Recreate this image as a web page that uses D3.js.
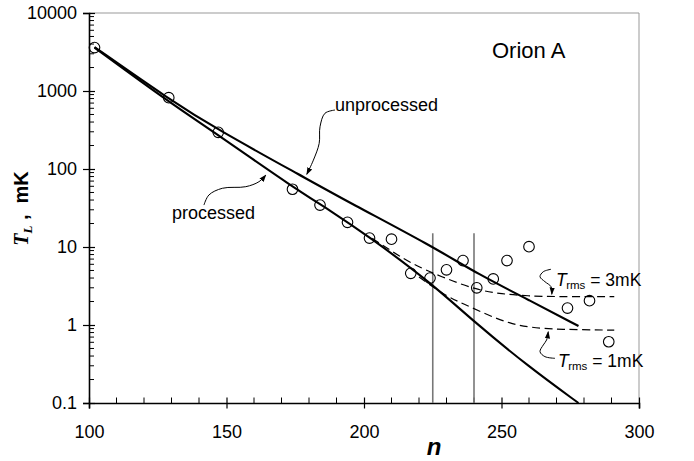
<!DOCTYPE html>
<html>
<head>
<meta charset="utf-8">
<script src="https://cdn.jsdelivr.net/npm/d3@7"></script>
<style>
body{margin:0;background:#fff;}
text{font-family:"Liberation Sans",Arial,sans-serif;}
</style>
</head>
<body>
<script>
// observed line temperatures
const obsN=[102,129,147,174,184,194,202,210,217,224,230,236,241,247,252,260,274,282,289];
const obsT=[3600,820,295,55,34.5,20.7,13,12.6,4.6,4.0,5.1,6.7,3.0,3.9,6.7,10.1,1.65,2.05,0.61];

// model curves
const unprocN=[102,129,147,178,195,224,242,260,278];
const unprocT=[3660,789,316,78.9,36.6,10.6,4.37,2.09,0.97];
const procN=[102,129,147,174,188,202,224,240,260,278];
const procT=[3600,723,273,58.8,29,13.4,3.56,1.1,0.29,0.1];

// noise-limited curves
const rms3N=[203,210,217,228,241,250,260,270,291];
const rms3T=[12.9,8.9,6.18,4.16,2.81,2.5,2.35,2.31,2.31];
const rms1N=[220,230,236,245,253,260,271,291];
const rms1T=[4.12,2.32,1.89,1.34,1.05,0.93,0.875,0.86];

// vertical markers
const vlineN=[225,240];
const vlineTop=15;

// ticks
const xTicks=[100,150,200,250,300];
const yTicks=[0.1,1,10,100,1000,10000];
const yTickLabels=["0.1","1","10","100","1000","10000"];

// annotation arrows (data coords)
const arrUnproc=[[189.45,570],[185.8,518],[184,348],[183.7,213],[181.6,130],[179.2,85.5]];
const arrProc=[[141.8,34.5],[143.6,46.4],[148.5,56.6],[157,59.3],[161.8,68.7],[164.3,83.7]];
const arr3=[[268,5.18],[265.2,4.82],[264,4.16],[265.8,3.59],[268,3.1],[268.3,2.48]];
const arr1=[[269.45,0.374],[265.8,0.393],[264,0.455],[265.2,0.555],[266.4,0.643],[267,0.82]];

const W=694,H=461;
const L=89,R=639,T=13,B=403;

const x=d3.scaleLinear().domain([100,300]).range([L,R]);
const y=d3.scaleLog().domain([0.1,10000]).range([B,T]);

const svg=d3.select("body").append("svg").attr("width",W).attr("height",H);

svg.append("defs").append("marker")
  .attr("id","ah").attr("viewBox","0 0 10 10")
  .attr("refX",9).attr("refY",5)
  .attr("markerWidth",7.5).attr("markerHeight",7.5)
  .attr("markerUnits","userSpaceOnUse")
  .attr("orient","auto")
  .append("path").attr("d","M0,1.5L10,5L0,8.5Z").attr("fill","#000");

// frame top/right
svg.append("line").attr("x1",L).attr("x2",R).attr("y1",T).attr("y2",T).attr("stroke","#999").attr("stroke-width",1);
svg.append("line").attr("x1",R).attr("x2",R).attr("y1",T).attr("y2",B).attr("stroke","#999").attr("stroke-width",1);

// minor ticks
const xMinor=d3.range(110,300,10).filter(d=>d%50!==0);
svg.append("g").selectAll("line").data(xMinor).enter().append("line")
  .attr("x1",d=>x(d)).attr("x2",d=>x(d)).attr("y1",B).attr("y2",B-5.5)
  .attr("stroke","#000").attr("stroke-width",1);
const yMinor=[];
[0.1,1,10,100,1000].forEach(d=>{for(let m=2;m<=9;m++)yMinor.push(d*m);});
svg.append("g").selectAll("line").data(yMinor).enter().append("line")
  .attr("x1",L).attr("x2",L+5).attr("y1",d=>y(d)).attr("y2",d=>y(d))
  .attr("stroke","#000").attr("stroke-width",1);

// axes
const gx=svg.append("g").attr("transform","translate(0,"+B+")")
  .call(d3.axisBottom(x).tickValues(xTicks).tickSizeOuter(0).tickSize(5.5).tickPadding(17).tickFormat(d3.format("d")));
gx.selectAll(".tick line").attr("y1",-5.5).attr("stroke-width",1.2);
gx.select(".domain").attr("stroke-width",1.6);
gx.selectAll("text").attr("font-size",18).attr("fill","#000").attr("font-family","Liberation Sans, Arial, sans-serif");

const gy=svg.append("g").attr("transform","translate("+L+",0)")
  .call(d3.axisLeft(y).tickValues(yTicks).tickSizeOuter(0).tickSize(6).tickPadding(6)
    .tickFormat((d,i)=>yTickLabels[i]));
gy.selectAll(".tick line").attr("x1",6).attr("stroke-width",1.2);
gy.select(".domain").attr("stroke-width",1.6);
gy.selectAll("text").attr("font-size",18).attr("fill","#000").attr("font-family","Liberation Sans, Arial, sans-serif");

// vertical markers
svg.append("g").selectAll("line").data(vlineN).enter().append("line")
  .attr("x1",d=>x(d)).attr("x2",d=>x(d)).attr("y1",y(vlineTop)).attr("y2",B)
  .attr("stroke","#777").attr("stroke-width",1.6);

const line=d3.line().x(d=>x(d[0])).y(d=>y(d[1])).curve(d3.curveBasis);
const zip=(a,b)=>a.map((v,i)=>[v,b[i]]);

svg.append("path").attr("d",line(zip(unprocN,unprocT))).attr("fill","none").attr("stroke","#000").attr("stroke-width",2.1);
svg.append("path").attr("d",line(zip(procN,procT))).attr("fill","none").attr("stroke","#000").attr("stroke-width",2.1);
svg.append("path").attr("d",line(zip(rms3N,rms3T))).attr("fill","none").attr("stroke","#000").attr("stroke-width",1.2).attr("stroke-dasharray","8,4.5");
svg.append("path").attr("d",line(zip(rms1N,rms1T))).attr("fill","none").attr("stroke","#000").attr("stroke-width",1.2).attr("stroke-dasharray","8,4.5");

// data points
svg.append("g").selectAll("circle").data(zip(obsN,obsT)).enter().append("circle")
  .attr("cx",d=>x(d[0])).attr("cy",d=>y(d[1])).attr("r",5.3)
  .attr("fill","none").attr("stroke","#000").attr("stroke-width",1.1);

// arrows
const aline=d3.line().x(d=>x(d[0])).y(d=>y(d[1])).curve(d3.curveCatmullRom);
[arrUnproc,arrProc,arr3,arr1].forEach(a=>{
  svg.append("path").attr("d",aline(a)).attr("fill","none").attr("stroke","#000")
    .attr("stroke-width",1).attr("marker-end","url(#ah)");
});

// labels
svg.append("text").attr("x",492).attr("y",58).attr("font-size",22).text("Orion A");
svg.append("text").attr("x",335).attr("y",111).attr("font-size",18).text("unprocessed");
svg.append("text").attr("x",172).attr("y",219).attr("font-size",18).text("processed");

function rmsLabel(px,py,val){
  const t=svg.append("text").attr("x",px).attr("y",py).attr("font-size",17.5);
  t.append("tspan").attr("font-style","italic").text("T");
  t.append("tspan").attr("font-size",11.5).attr("dy",3).attr("dx",-0.5).text("rms");
  t.append("tspan").attr("dy",-3).text("\u00a0=\u00a0"+val);
}
rmsLabel(556,286,"3mK");
rmsLabel(558,367,"1mK");

// axis titles
const yl=svg.append("text").attr("transform","translate(28,208.5) rotate(-90)")
  .attr("text-anchor","middle").attr("font-weight","bold");
yl.append("tspan").attr("font-family","Liberation Serif, Times New Roman, serif").attr("font-style","italic").attr("font-size",20).text("T");
yl.append("tspan").attr("font-family","Liberation Serif, Times New Roman, serif").attr("font-style","italic").attr("font-size",13).attr("dy",4).text("L");
yl.append("tspan").attr("font-size",20).attr("dy",-4).text("\u00a0,\u00a0 mK");

svg.append("text").attr("x",434).attr("y",455).attr("text-anchor","middle")
  .attr("font-family","Liberation Serif, Times New Roman, serif").attr("font-style","italic")
  .attr("font-weight","bold").attr("font-size",24).text("n");
</script>
</body>
</html>
